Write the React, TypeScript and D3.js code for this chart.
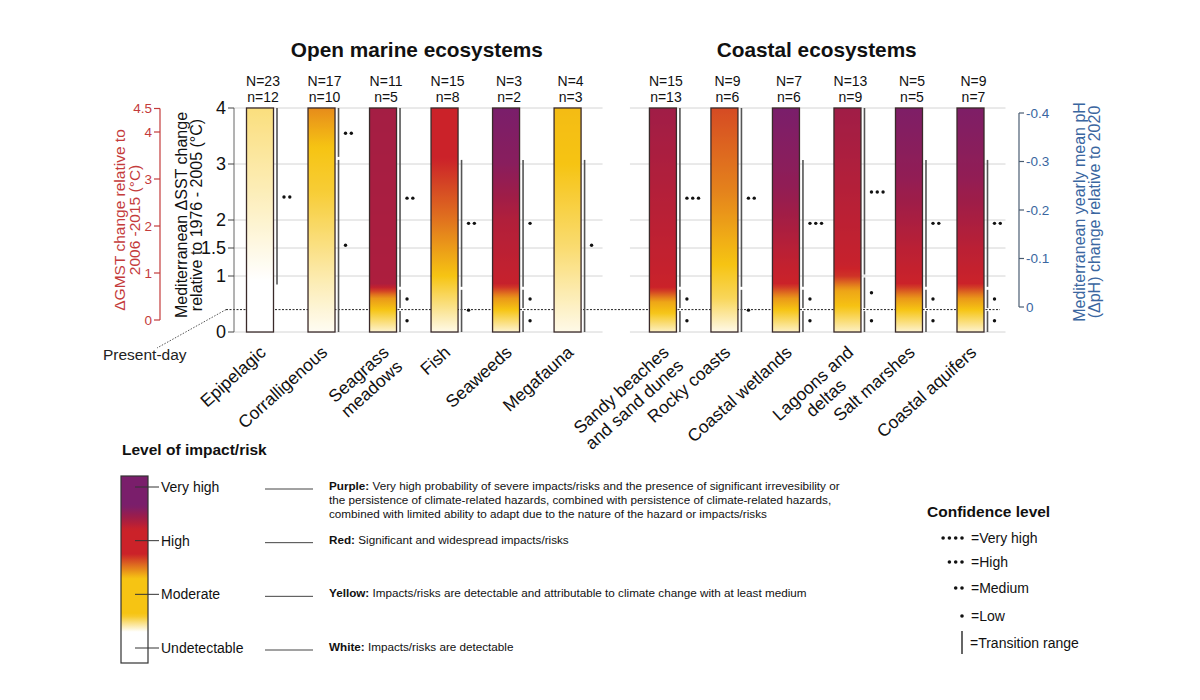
import * as d3 from 'd3';

const FONT = "'Liberation Sans', Arial, sans-serif";

// ecosystems, left to right
const openCats = ['Epipelagic', 'Corralligenous', 'Seagrass\nmeadows', 'Fish', 'Seaweeds', 'Megafauna'];
const coastalCats = ['Sandy beaches\nand sand dunes', 'Rocky coasts', 'Coastal wetlands', 'Lagoons and\ndeltas', 'Salt marshes', 'Coastal aquifers'];
const bigN = [23, 17, 11, 15, 3, 4, 15, 9, 7, 13, 5, 9];
const smallN = [12, 10, 5, 8, 2, 3, 13, 6, 6, 9, 5, 7];

// colour profile of each bar: [ΔSST, impact level] (0 white, 1 yellow, 2 red, 3 purple)
const colourProfiles: [number, number][][] = [
  [[4, 0.55], [2.5, 0.3], [0.9, 0]],
  [[4, 1.35], [3.3, 1], [2.5, 0.85], [1, 0.35], [0, 0.05]],
  [[4, 2.45], [0.85, 2.35], [0.62, 1.3], [0.4, 1.0], [0, 0.2]],
  [[4, 2], [3.1, 2], [2, 1.5], [1, 1], [0, 0.1]],
  [[4, 3], [3, 2.8], [2, 2.3], [0.85, 2.05], [0.62, 1.3], [0.4, 1.0], [0, 0.2]],
  [[4, 1.05], [3, 1], [1.5, 0.6], [0, 0.1]],
  [[4, 2.5], [1.0, 2.05], [0.78, 2.0], [0.55, 1.2], [0.35, 1.0], [0, 0.25]],
  [[4, 1.75], [2.5, 1.4], [1.2, 1.0], [0.6, 0.7], [0, 0.1]],
  [[4, 3], [2.6, 2.7], [1.2, 2.1], [0.85, 2.0], [0.62, 1.3], [0.4, 1.0], [0, 0.25]],
  [[4, 2.5], [1.2, 2.05], [1.0, 1.9], [0.75, 1.2], [0.45, 1.0], [0, 0.25]],
  [[4, 2.95], [2.8, 2.7], [1.5, 2.2], [0.85, 2.0], [0.62, 1.3], [0.4, 1.0], [0, 0.2]],
  [[4, 2.95], [2.8, 2.7], [1.5, 2.2], [0.85, 2.0], [0.62, 1.3], [0.4, 1.0], [0, 0.2]],
];

// transition ranges: [from ΔSST, to ΔSST, confidence dots]
const transitions: [number, number, number][][] = [
  [[0.82, 4, 2]],
  [[3.1, 4, 2], [0, 3.1, 1]],
  [[0.78, 4, 2], [0.4, 0.78, 1], [0, 0.4, 1]],
  [[0.78, 3.1, 2], [0, 0.78, 1]],
  [[0.78, 3.1, 1], [0.4, 0.78, 1], [0, 0.4, 1]],
  [[0, 3.1, 1]],
  [[0.78, 4, 3], [0.4, 0.78, 1], [0, 0.4, 1]],
  [[0.78, 4, 2], [0, 0.78, 1]],
  [[0.78, 3.1, 3], [0.4, 0.78, 1], [0, 0.4, 1]],
  [[1.0, 4, 3], [0.4, 1.0, 1], [0, 0.4, 1]],
  [[0.78, 3.1, 2], [0.4, 0.78, 1], [0, 0.4, 1]],
  [[0.78, 3.1, 2], [0.4, 0.78, 1], [0, 0.4, 1]],
];

const sstTicks = [0, 1, 1.5, 2, 3, 4];
const gmstTicks = [0, 1, 2, 3, 4, 4.5];
const phTicks = [0, -0.1, -0.2, -0.3, -0.4];
const presentDay = 0.4;

const levelNames = ['Undetectable', 'Moderate', 'High', 'Very high'];
const levelKeys = ['White:', 'Yellow:', 'Red:', 'Purple:'];
const levelDescriptions = [
  ['Impacts/risks are detectable'],
  ['Impacts/risks are detectable and attributable to climate change with at least medium'],
  ['Significant and widespread impacts/risks'],
  [
    'Very high probability of severe impacts/risks and the presence of significant irrevesibility or',
    'the persistence of climate-related hazards, combined with persistence of climate-related hazards,',
    'combined with limited ability to adapt due to the nature of the hazard or impacts/risks',
  ],
];
// legend bar: [position on level axis, colour level]
const legendProfile: [number, number][] = [[3.3, 3], [2.65, 3], [2.2, 2], [1.75, 2], [1.3, 1], [0.62, 1], [0.3, 0], [-0.3, 0]];
const confidenceNames = ['=Very high', '=High', '=Medium', '=Low'];
const confidenceDots = [4, 3, 2, 1];

const levelColour = d3.scaleLinear<string>()
  .domain([0, 1, 2, 2.5, 3])
  .range(['#ffffff', '#f6c413', '#cb2229', '#a01d47', '#7a1e6b'])
  .interpolate(d3.interpolateRgb)
  .clamp(true);

const measureCtx = document.createElement('canvas').getContext('2d');
function textWidth(s: string, font: string) {
  if (!measureCtx) return s.length * 8;
  measureCtx.font = font;
  return measureCtx.measureText(s).width;
}

export default function App() {
  const cats = [...openCats, ...coastalCats];
  const pos = (i: number) => (i < 6 ? i : i + 0.55);
  const x = d3.scaleLinear().domain([0, 11.55]).range([260, 970.5]);
  const y = d3.scaleLinear().domain([0, 4]).range([332, 108]);
  const yG = d3.scaleLinear().domain([0, 4]).range([320, 132]);
  const yPh = d3.scaleLinear().domain([0, -0.4]).range([307, 113]);
  const yLeg = d3.scaleLinear().domain([0, 3]).range([648, 487]);
  const barW = 27;

  const sampleStops = (profile: [number, number][], from: number, to: number, n = 60) => {
    const lv = d3.scaleLinear().domain(profile.map(p => p[0])).range(profile.map(p => p[1])).clamp(true);
    return d3.range(n + 1).map(k => {
      const v = from + (to - from) * (k / n);
      return { offset: k / n, colour: levelColour(lv(v)) };
    });
  };

  const catSize = 17.5;
  const catFont = `${catSize}px ${FONT}`;
  const gridSegments: [number, number][] = [
    [234, x(pos(5)) + 35],
    [x(pos(6)) - 33, x(pos(11)) + 35],
  ];

  return (
    <svg width={1200} height={700} style={{ position: 'absolute', left: 0, top: 0, background: '#fff' }}
      fontFamily={FONT}>
      <defs>
        {colourProfiles.map((p, i) => (
          <linearGradient key={i} id={`bar${i}`} gradientUnits="userSpaceOnUse" x1={0} x2={0} y1={y(4)} y2={y(0)}>
            {sampleStops(p, 4, 0).map((s, k) => <stop key={k} offset={s.offset} stopColor={s.colour} />)}
          </linearGradient>
        ))}
        <linearGradient id="legendBar" gradientUnits="userSpaceOnUse" x1={0} x2={0} y1={476} y2={663}>
          {sampleStops(legendProfile, yLeg.invert(476), yLeg.invert(663)).map((s, k) => (
            <stop key={k} offset={s.offset} stopColor={s.colour} />
          ))}
        </linearGradient>
      </defs>

      {/* group titles */}
      <text x={(x(pos(0)) + x(pos(5))) / 2 + 3} y={57} textAnchor="middle" fontSize={20.8} fontWeight="bold" fill="#111">
        Open marine ecosystems
      </text>
      <text x={(x(pos(6)) + x(pos(11))) / 2} y={57} textAnchor="middle" fontSize={20.8} fontWeight="bold" fill="#111">
        Coastal ecosystems
      </text>

      {/* grid */}
      {sstTicks.map(t => gridSegments.map(([a, b], k) => (
        <line key={`${t}-${k}`} x1={a} x2={b} y1={y(t)} y2={y(t)} stroke="#d4d4d4" strokeWidth={1} />
      )))}
      <line x1={226} x2={1000} y1={y(presentDay)} y2={y(presentDay)} stroke="#222" strokeWidth={1} strokeDasharray="2,1.5" />
      <line x1={226} x2={157} y1={y(presentDay)} y2={348} stroke="#555" strokeWidth={1} strokeDasharray="1.5,1.5" />
      <text x={103} y={360} fontSize={15.5} fill="#222">Present-day</text>

      {/* SST axis */}
      <line x1={234} x2={234} y1={y(4)} y2={y(0)} stroke="#666" strokeWidth={1} />
      {sstTicks.map(t => (
        <g key={t}>
          <line x1={228} x2={234} y1={y(t)} y2={y(t)} stroke="#444" />
          <text x={226} y={y(t)} dy="0.35em" textAnchor="end" fontSize={18} fill="#111">{t}</text>
        </g>
      ))}
      <text transform={`translate(187,215) rotate(-90)`} textAnchor="middle" fontSize={16} fill="#111">
        <tspan x={0} y={0}>Mediterranean ΔSST change</tspan>
        <tspan x={0} y={15}>relative to 1976 - 2005 (°C)</tspan>
      </text>

      {/* GMST axis */}
      <line x1={160} x2={160} y1={yG(4.5)} y2={yG(0)} stroke="#c43b3b" strokeWidth={1.2} />
      {gmstTicks.map(t => (
        <g key={t}>
          <line x1={154} x2={160} y1={yG(t)} y2={yG(t)} stroke="#c43b3b" strokeWidth={1.2} />
          <text x={152} y={yG(t)} dy="0.35em" textAnchor="end" fontSize={13.5} fill="#c43b3b">{t}</text>
        </g>
      ))}
      <text transform={`translate(125,220) rotate(-90)`} textAnchor="middle" fontSize={15.5} fill="#c43b3b">
        <tspan x={0} y={0}>ΔGMST change relative to</tspan>
        <tspan x={0} y={14.5}>2006 -2015 (°C)</tspan>
      </text>

      {/* pH axis */}
      <line x1={1019} x2={1019} y1={yPh(-0.4)} y2={yPh(0)} stroke="#4a5d72" strokeWidth={1.2} />
      {phTicks.map(t => (
        <g key={t}>
          <line x1={1019} x2={1024} y1={yPh(t)} y2={yPh(t)} stroke="#4a5d72" strokeWidth={1.2} />
          <text x={1026} y={yPh(t)} dy="0.35em" fontSize={13.5} fill="#3a66a0">{t === 0 ? '0' : t.toFixed(1)}</text>
        </g>
      ))}
      <text transform={`translate(1085,212) rotate(-90)`} textAnchor="middle" fontSize={16} fill="#3a66a0">
        <tspan x={0} y={0}>Mediterranean yearly mean pH</tspan>
        <tspan x={0} y={15}>(ΔpH) change relative to 2020</tspan>
      </text>

      {/* bars */}
      {cats.map((c, i) => {
        const cx = x(pos(i));
        const lineX = cx + barW / 2 + 3.5;
        const lines = c.split('\n');
        const w1 = textWidth(lines[0], catFont);
        return (
          <g key={c}>
            <text x={cx + 3} y={86} textAnchor="middle" fontSize={14} fill="#111">N={bigN[i]}</text>
            <text x={cx + 3} y={102} textAnchor="middle" fontSize={14} fill="#111">n={smallN[i]}</text>
            <rect x={cx - barW / 2} y={y(4)} width={barW} height={y(0) - y(4)} fill={`url(#bar${i})`}
              stroke="#3a2a2a" strokeWidth={1.3} />
            {transitions[i].map(([lo, hi, conf], k) => (
              <g key={k}>
                <line x1={lineX} x2={lineX} y1={y(hi) + (hi < 4 ? 1.5 : 0)} y2={y(lo) - (lo > 0 ? 1.5 : 0)}
                  stroke="#555" strokeWidth={1.6} />
                {d3.range(conf).map(d => (
                  <circle key={d} cx={lineX + 7 + d * 5.8} cy={y((lo + hi) / 2)} r={1.7} fill="#111" />
                ))}
              </g>
            ))}
            <g transform={`translate(${cx + 7},354) rotate(-42)`}>
              <text x={0} y={0} textAnchor="end" fontSize={catSize} fill="#111">{lines[0]}</text>
              {lines.slice(1).map((l, k) => (
                <text key={k} x={-w1 / 2} y={19.5 * (k + 1)} textAnchor="middle" fontSize={catSize} fill="#111">{l}</text>
              ))}
            </g>
          </g>
        );
      })}

      {/* impact legend */}
      <text x={122} y={455} fontSize={15.5} fontWeight="bold" fill="#111">Level of impact/risk</text>
      <rect x={121} y={476} width={27} height={187} fill="url(#legendBar)" stroke="#333" strokeWidth={1.2} />
      {levelNames.map((name, lv) => {
        const ly = yLeg(lv);
        return (
          <g key={name}>
            <line x1={135} x2={159} y1={ly} y2={ly} stroke="#333" strokeWidth={1} />
            <text x={161} y={ly} dy="0.35em" fontSize={14} fill="#111">{name}</text>
            <line x1={265} x2={313} y1={ly + 2} y2={ly + 2} stroke="#444" strokeWidth={1} />
            {levelDescriptions[lv].map((t, k) => (
              <text key={k} x={329} y={ly + 3 + k * 14} fontSize={11.7} fill="#111">
                {k === 0 && <tspan fontWeight="bold">{levelKeys[lv]} </tspan>}
                {t}
              </text>
            ))}
          </g>
        );
      })}

      {/* confidence legend */}
      <text x={927} y={517} fontSize={15.5} fontWeight="bold" fill="#111">Confidence level</text>
      {confidenceNames.map((name, k) => {
        const ry = [538, 562, 588, 616][k];
        return (
          <g key={name}>
            {d3.range(confidenceDots[k]).map(d => (
              <circle key={d} cx={962 - d * 6.3} cy={ry} r={1.8} fill="#111" />
            ))}
            <text x={971} y={ry} dy="0.35em" fontSize={14} fill="#111">{name}</text>
          </g>
        );
      })}
      <line x1={962} x2={962} y1={631} y2={654} stroke="#333" strokeWidth={1.5} />
      <text x={970} y={643} dy="0.35em" fontSize={14} fill="#111">=Transition range</text>
    </svg>
  );
}
